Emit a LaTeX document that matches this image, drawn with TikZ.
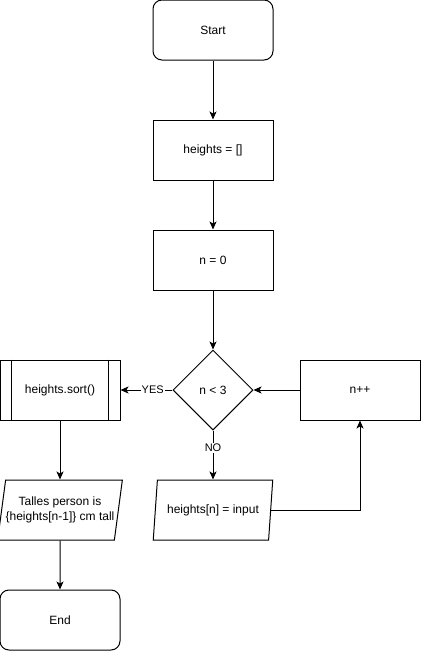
\documentclass[tikz,border=0pt]{standalone}
\usepackage{fontspec}
\setmainfont{Liberation Sans}
\usetikzlibrary{arrows.meta,shapes.geometric}

\tikzset{
  base/.style={draw,line width=1pt,font=\fontsize{12}{15}\selectfont,inner sep=0pt},
  terminal/.style={base,rectangle,rounded corners=9pt,minimum width=120pt,minimum height=60pt},
  process/.style={base,rectangle,minimum width=120pt,minimum height=60pt},
  decision/.style={base,diamond,minimum width=80pt,minimum height=80pt},
  io/.style={base,trapezium,trapezium left angle=73,trapezium right angle=107,
    trapezium stretches=true,minimum width=120pt,minimum height=60pt,align=center},
  flow/.style={line width=1pt,-{Stealth[length=8pt,width=7pt,inset=2pt]}},
  lbl/.style={fill=white,inner sep=1pt,font=\fontsize{11}{14}\selectfont}
}

\begin{document}
\begin{tikzpicture}[x=1pt,y=-1pt]
\useasboundingbox (0,0) rectangle (421,651);

% main column
\node[terminal] (start) at (213,30) {Start};
\node[process] (init) at (213,150) {heights = []};
\node[process] (zero) at (213,260) {n = 0};
\node[decision] (cond) at (213,390) {n < 3};

% left branch
\node[process] (sort) at (60,390) {heights.sort()};
\draw[line width=1pt] ([xshift=12]sort.north west) -- ([xshift=12]sort.south west);
\draw[line width=1pt] ([xshift=-12]sort.north east) -- ([xshift=-12]sort.south east);
\node[io] (out) at (60,510) {Talles person is\\\{heights[n-1]\} cm tall};
\node[terminal] (stop) at (60,620) {End};

% loop
\node[io] (input) at (213,510) {heights[n] = input};
\node[process] (inc) at (360,390) {n++};

\draw[flow] (start) -- (init);
\draw[flow] (init) -- (zero);
\draw[flow] (zero) -- (cond);
\draw[flow] (cond) -- node[lbl,pos=0.38] {YES} (sort);
\draw[flow] (cond) -- node[lbl,pos=0.35] {NO} (input);
\draw[flow] (input.east) -| (inc.south);
\draw[flow] (inc) -- (cond);
\draw[flow] (sort) -- (out);
\draw[flow] (out) -- (stop);
\end{tikzpicture}
\end{document}
